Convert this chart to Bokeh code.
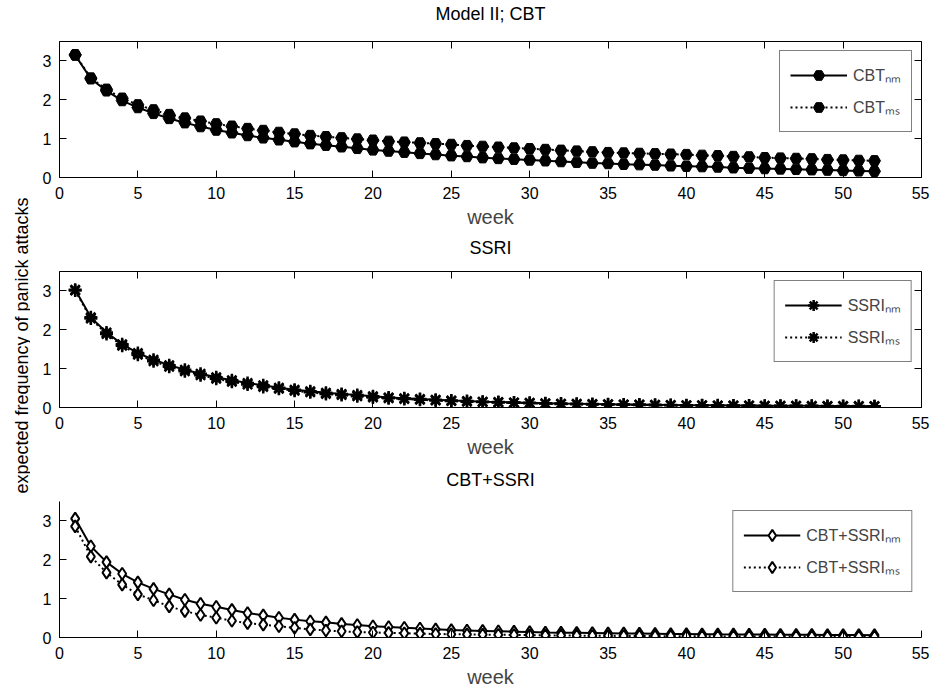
from bokeh.plotting import figure
from bokeh.layouts import row, column
from bokeh.models import LinearAxis, Range1d, Label, FixedTicker
from bokeh.embed import file_html
from bokeh.resources import INLINE
import math

# ---------------- data ----------------
weeks = list(range(1, 53))
x_ticks = [0, 5, 10, 15, 20, 25, 30, 35, 40, 45, 50, 55]
y_ticks = [0, 1, 2, 3]

cbt_nm = [3.15, 2.54, 2.23, 1.98, 1.80, 1.65, 1.52, 1.41, 1.31, 1.22,
          1.15, 1.08, 1.02, 0.97, 0.92, 0.87, 0.83, 0.79, 0.75, 0.71,
          0.68, 0.65, 0.62, 0.59, 0.56, 0.54, 0.51, 0.49, 0.47, 0.45,
          0.43, 0.41, 0.39, 0.37, 0.36, 0.34, 0.33, 0.32, 0.30, 0.29,
          0.28, 0.27, 0.25, 0.24, 0.23, 0.22, 0.21, 0.20, 0.19, 0.18,
          0.17, 0.16]
cbt_ms = [3.16, 2.56, 2.27, 2.04, 1.87, 1.74, 1.62, 1.53, 1.45, 1.38,
          1.32, 1.26, 1.21, 1.16, 1.12, 1.08, 1.05, 1.02, 0.99, 0.96,
          0.93, 0.91, 0.89, 0.87, 0.85, 0.82, 0.80, 0.78, 0.76, 0.74,
          0.72, 0.70, 0.68, 0.66, 0.64, 0.63, 0.62, 0.61, 0.60, 0.59,
          0.57, 0.56, 0.54, 0.53, 0.51, 0.50, 0.49, 0.48, 0.46, 0.45,
          0.44, 0.43]
ssri_nm = [3.03, 2.32, 1.93, 1.63, 1.40, 1.23, 1.09, 0.97, 0.87, 0.78,
           0.70, 0.63, 0.57, 0.51, 0.46, 0.42, 0.38, 0.35, 0.32, 0.29,
           0.26, 0.24, 0.22, 0.20, 0.18, 0.17, 0.15, 0.14, 0.13, 0.12,
           0.11, 0.10, 0.095, 0.09, 0.085, 0.08, 0.075, 0.07, 0.065, 0.06,
           0.058, 0.055, 0.052, 0.05, 0.048, 0.046, 0.044, 0.042, 0.04, 0.038,
           0.036, 0.035]
ssri_ms = [3.01, 2.29, 1.89, 1.59, 1.36, 1.19, 1.05, 0.93, 0.83, 0.74,
           0.66, 0.59, 0.53, 0.48, 0.43, 0.39, 0.35, 0.32, 0.29, 0.26,
           0.24, 0.22, 0.20, 0.18, 0.165, 0.15, 0.14, 0.13, 0.12, 0.11,
           0.10, 0.092, 0.085, 0.08, 0.075, 0.07, 0.065, 0.06, 0.056, 0.052,
           0.05, 0.047, 0.045, 0.043, 0.041, 0.04, 0.038, 0.036, 0.035, 0.034,
           0.033, 0.032]
both_nm = [3.06, 2.35, 1.94, 1.64, 1.42, 1.25, 1.11, 0.97, 0.87, 0.79,
           0.71, 0.63, 0.57, 0.51, 0.46, 0.42, 0.39, 0.35, 0.32, 0.29,
           0.27, 0.25, 0.23, 0.21, 0.19, 0.18, 0.17, 0.16, 0.15, 0.14,
           0.13, 0.125, 0.12, 0.115, 0.11, 0.105, 0.10, 0.095, 0.09, 0.088,
           0.085, 0.082, 0.08, 0.078, 0.075, 0.072, 0.07, 0.068, 0.066, 0.064,
           0.062, 0.06]
both_ms = [2.86, 2.08, 1.67, 1.36, 1.11, 0.96, 0.80, 0.68, 0.58, 0.51,
           0.43, 0.37, 0.33, 0.29, 0.25, 0.21, 0.18, 0.16, 0.14, 0.13,
           0.12, 0.11, 0.10, 0.09, 0.085, 0.08, 0.075, 0.07, 0.065, 0.06,
           0.056, 0.052, 0.049, 0.046, 0.043, 0.04, 0.038, 0.036, 0.034, 0.032,
           0.03, 0.029, 0.028, 0.027, 0.026, 0.025, 0.024, 0.023, 0.022, 0.021,
           0.02, 0.02]

titles = ["Model II; CBT", "SSRI", "CBT+SSRI"]
labels_nm = ["CBT\u2099\u2098", "SSRI\u2099\u2098", "CBT+SSRI\u2099\u2098"]
labels_ms = ["CBT\u2098\u209b", "SSRI\u2098\u209b", "CBT+SSRI\u2098\u209b"]
x_label = "week"
y_label = "expected frequency of panick attacks"

FONT = "Liberation Sans"


def style_axis(ax, ticks, show_labels=True):
    ax.ticker = FixedTicker(ticks=ticks)
    ax.major_tick_in = 7
    ax.major_tick_out = 0
    ax.minor_tick_line_color = None
    ax.axis_line_color = "black"
    ax.axis_line_width = 1
    ax.major_tick_line_color = "black"
    ax.major_tick_line_width = 1
    ax.major_label_text_font = FONT
    if show_labels:
        ax.major_label_text_font_size = "16px"
        ax.major_label_text_color = "black"
    else:
        ax.major_label_text_font_size = "1px"
        ax.major_label_text_color = None
        ax.major_label_standoff = 0


def make_panel(idx, title_standoff, nm, ms, marker, msize, mfill, mline, box):
    p = figure(width=899, height=230, output_backend="svg", toolbar_location=None,
               x_range=Range1d(0, 55), y_range=Range1d(0, 3.5),
               min_border_left=29, min_border_right=8,
               min_border_top=41, min_border_bottom=52,
               background_fill_color="white", border_fill_color="white")
    p.grid.visible = False
    p.outline_line_color = None

    style_axis(p.xaxis[0], x_ticks)
    p.xaxis.major_label_standoff = 9
    p.xaxis.axis_label = x_label
    p.xaxis.axis_label_text_font = FONT
    p.xaxis.axis_label_text_font_size = "20px"
    p.xaxis.axis_label_text_font_style = "normal"
    p.xaxis.axis_label_standoff = 4
    style_axis(p.yaxis[0], y_ticks)
    p.yaxis.major_label_standoff = 8

    # top axis: box edge with inward ticks (panels 1, 2) and the panel title
    top_ax = LinearAxis()
    style_axis(top_ax, x_ticks, show_labels=False)
    if not box:
        top_ax.axis_line_color = None
        top_ax.major_tick_line_color = None
    top_ax.axis_label = titles[idx]
    top_ax.axis_label_text_font = FONT
    top_ax.axis_label_text_font_size = "18px"
    top_ax.axis_label_text_font_style = "normal"
    top_ax.axis_label_text_color = "black"
    top_ax.axis_label_standoff = title_standoff
    p.add_layout(top_ax, "above")
    if box:
        right_ax = LinearAxis()
        style_axis(right_ax, y_ticks, show_labels=False)
        p.add_layout(right_ax, "right")

    p.line(weeks, nm, line_color="black", line_width=2, legend_label=labels_nm[idx])
    p.scatter(weeks, nm, marker=marker, size=msize, fill_color=mfill, line_color="black",
              line_width=mline, legend_label=labels_nm[idx])
    p.line(weeks, ms, line_color="black", line_width=2, line_dash="2 3",
           legend_label=labels_ms[idx])
    p.scatter(weeks, ms, marker=marker, size=msize, fill_color=mfill, line_color="black",
              line_width=mline, legend_label=labels_ms[idx])

    lg = p.legend[0]
    lg.location = "top_right"
    lg.margin = 9
    lg.padding = 10
    lg.spacing = 4
    lg.glyph_width = 57
    lg.glyph_height = 28
    lg.label_height = 28
    lg.label_standoff = 6
    lg.label_text_font = FONT
    lg.label_text_font_size = "16px"
    lg.border_line_color = "black"
    lg.border_line_width = 1
    lg.background_fill_color = "white"
    lg.background_fill_alpha = 1
    return p


p1 = make_panel(0, 18, cbt_nm, cbt_ms, "hex", 12, "black", 1, True)
p2 = make_panel(1, 14, ssri_nm, ssri_ms, "asterisk", 13, "black", 2.5, True)
p3 = make_panel(2, 12, both_nm, both_ms, "diamond", 12, "white", 2, False)

lab = figure(width=30, height=690, output_backend="svg", toolbar_location=None,
             x_range=Range1d(0, 30), y_range=Range1d(0, 690),
             x_axis_type=None, y_axis_type=None, min_border=0,
             background_fill_color="white", border_fill_color="white")
lab.outline_line_color = None
lab.grid.visible = False
lab.add_layout(Label(x=21, y=345, text=y_label, angle=math.pi / 2,
                     text_align="center", text_baseline="middle",
                     text_font=FONT, text_font_size="18px", text_color="black"))

layout = row(lab, column(p1, p2, p3))

open("out.html", "w").write(file_html(layout, INLINE))
